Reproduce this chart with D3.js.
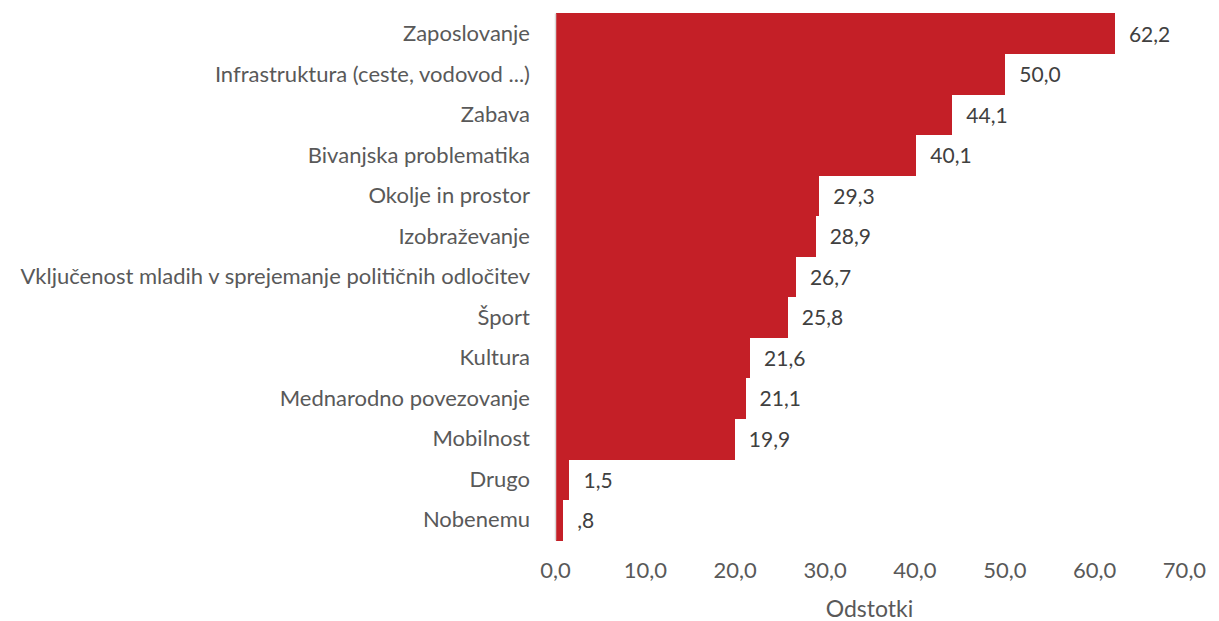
<!DOCTYPE html>
<html lang="sl">
<head>
<meta charset="UTF-8">
<title>Odstotki</title>
<script src="https://cdn.jsdelivr.net/npm/d3@7"></script>
<style>
    html, body { margin: 0; background: #fff; }
    svg { display: block; font-family: Lato, "Open Sans", sans-serif; }
</style>
</head>
<body>
<svg id="chart"></svg>
<script>
    const categories = [
        'Zaposlovanje',
        'Infrastruktura (ceste, vodovod ...)',
        'Zabava',
        'Bivanjska problematika',
        'Okolje in prostor',
        'Izobraževanje',
        'Vključenost mladih v sprejemanje političnih odločitev',
        'Šport',
        'Kultura',
        'Mednarodno povezovanje',
        'Mobilnost',
        'Drugo',
        'Nobenemu'
    ];
    const values = [62.2, 50.0, 44.1, 40.1, 29.3, 28.9, 26.7, 25.8, 21.6, 21.1, 19.9, 1.5, 0.8];
    const xTicks = [0, 10, 20, 30, 40, 50, 60, 70];
    const axisTitle = 'Odstotki';

    const width = 1219, height = 621;
    const margin = {top: 13, left: 555, right: 35, bottom: 81};
    const innerW = width - margin.left - margin.right;
    const innerH = height - margin.top - margin.bottom;

    const svg = d3.select('#chart').attr('width', width).attr('height', height);
    const g = svg.append('g').attr('transform', `translate(${margin.left},${margin.top})`);

    const fmt = v => {
        let s = v.toFixed(1).replace('.', ',');
        if (s.startsWith('0,') && v !== 0) s = s.slice(1);
        return s;
    };

    const x = d3.scaleLinear().domain([0, 70]).range([0, innerW]);
    const y = d3.scaleBand().domain(categories).range([0, innerH]).padding(0);

    const data = categories.map((c, i) => ({name: c, value: values[i]}));

    g.selectAll('rect.bar')
        .data(data)
        .join('rect')
        .attr('class', 'bar')
        .attr('x', 1)
        .attr('y', d => y(d.name))
        .attr('width', d => x(d.value))
        .attr('height', y.bandwidth() + 0.6)
        .attr('fill', '#c41f27')
        .attr('shape-rendering', 'crispEdges');

    // value labels
    g.selectAll('text.val')
        .data(data)
        .join('text')
        .attr('class', 'val')
        .attr('x', d => x(d.value) + 15)
        .attr('y', d => y(d.name) + y.bandwidth() / 2 + 1)
        .attr('dy', '0.35em')
        .attr('fill', '#404040')
        .style('font-size', '21px')
        .text(d => fmt(d.value));

    // y axis
    const yAxis = g.append('g')
        .call(d3.axisLeft(y).tickSize(0).tickPadding(25));
    yAxis.attr('font-family', null).attr('font-size', null);
    yAxis.select('.domain').attr('stroke', '#d9d9d9').attr('stroke-width', 1.5);
    yAxis.selectAll('text').attr('fill', '#595959').style('font-size', '22px').attr('dy', '0.35em');

    // x axis
    const xAxis = g.append('g')
        .attr('transform', `translate(0,${innerH})`)
        .call(d3.axisBottom(x).tickValues(xTicks).tickSize(0).tickPadding(22).tickFormat(d => d.toFixed(1).replace('.', ',')));
    xAxis.attr('font-family', null).attr('font-size', null);
    xAxis.select('.domain').remove();
    xAxis.selectAll('text').attr('fill', '#595959').style('font-size', '22px');

    svg.append('text')
        .attr('x', margin.left + x(35))
        .attr('y', 617)
        .attr('text-anchor', 'middle')
        .attr('fill', '#595959')
        .style('font-size', '23px')
        .text(axisTitle);
</script>
</body>
</html>
